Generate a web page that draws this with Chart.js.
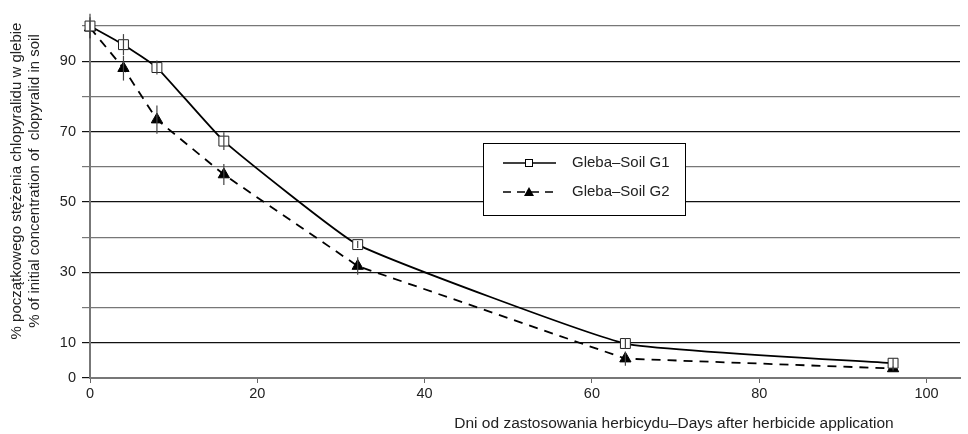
<!DOCTYPE html>
<html>
<head>
<meta charset="utf-8">
<script src="https://cdn.jsdelivr.net/npm/chart.js@4.4.0/dist/chart.umd.min.js"></script>
<style>
  html, body { margin: 0; padding: 0; background: #fff; }
</style>
</head>
<body>
<canvas id="chart" width="968" height="434"></canvas>
<script>
// days after application
const days = [0, 4, 8, 16, 32, 64, 96];
// % of initial concentration
const soilG1 = [100, 94.7, 88.2, 67.3, 37.9, 9.8, 4.2];
const soilG2 = [99.5, 88, 73.4, 57.8, 31.8, 5.5, 2.7];
// error bar half-heights
const errG1 = [3.5, 3, 2, 2.5, 1, 1.5, 1.5];
const errG2 = [3, 3.5, 4, 3, 2.5, 2, 0.6];
const seriesNames = ['Gleba\u2013Soil G1', 'Gleba\u2013Soil G2'];
const xTicks = [0, 20, 40, 60, 80, 100];
const yTicks = [0, 10, 20, 30, 40, 50, 60, 70, 80, 90, 100];
const yLabels = [0, 10, 30, 50, 70, 90];
const yTitle = ['% pocz\u0105tkowego st\u0119\u017cenia chlopyralidu w glebie', '% of initial concentration of  clopyralid in soil'];
const xTitle = 'Dni od zastosowania herbicydu\u2013Days after herbicide application';

const FONT = '"Liberation Sans", Arial, sans-serif';

const errorBars = {
  id: 'errorBars',
  afterDatasetsDraw(chart) {
    const {ctx, scales: {x, y}} = chart;
    const errs = [errG1, errG2];
    ctx.save();
    ctx.strokeStyle = '#444';
    ctx.lineWidth = 1.2;
    chart.data.datasets.forEach((ds, i) => {
      ds.data.forEach((p, j) => {
        const px = x.getPixelForValue(p.x);
        ctx.beginPath();
        ctx.moveTo(px, y.getPixelForValue(p.y + errs[i][j]));
        ctx.lineTo(px, y.getPixelForValue(p.y - errs[i][j]));
        ctx.stroke();
      });
    });
    ctx.restore();
  }
};

const extras = {
  id: 'extras',
  afterDraw(chart) {
    const {ctx} = chart;
    ctx.save();
    // legend box
    const bx = 483, by = 143, bw = 202, bh = 72;
    ctx.fillStyle = '#fff';
    ctx.fillRect(bx, by, bw, bh);
    ctx.strokeStyle = '#000';
    ctx.lineWidth = 1;
    ctx.strokeRect(bx + 0.5, by + 0.5, bw, bh);
    const rows = [163, 192];
    ctx.font = '15px ' + FONT;
    ctx.textBaseline = 'middle';
    ctx.textAlign = 'left';
    rows.forEach((ry, i) => {
      ctx.strokeStyle = '#000';
      ctx.lineWidth = 1.6;
      ctx.setLineDash(i === 0 ? [] : [8, 6]);
      ctx.beginPath();
      ctx.moveTo(503, ry);
      ctx.lineTo(556, ry);
      ctx.stroke();
      ctx.setLineDash([]);
      if (i === 0) {
        ctx.fillStyle = '#fff';
        ctx.fillRect(525, ry - 4, 8, 8);
        ctx.lineWidth = 1;
        ctx.strokeRect(525.5, ry - 3.5, 7, 7);
      } else {
        ctx.fillStyle = '#000';
        ctx.beginPath();
        ctx.moveTo(529, ry - 5);
        ctx.lineTo(534, ry + 4);
        ctx.lineTo(524, ry + 4);
        ctx.closePath();
        ctx.fill();
      }
      ctx.fillStyle = '#222';
      ctx.fillText(seriesNames[i], 572, ry);
    });
    // axis titles
    ctx.fillStyle = '#222';
    ctx.font = '15.5px ' + FONT;
    ctx.textAlign = 'center';
    ctx.fillText(xTitle, 674, 424);
    ctx.font = '15px ' + FONT;
    ctx.translate(0, 181);
    ctx.rotate(-Math.PI / 2);
    ctx.fillText(yTitle[0], 0, 17);
    ctx.fillText(yTitle[1], 0, 35);
    ctx.restore();
  }
};

new Chart(document.getElementById('chart'), {
  type: 'line',
  data: {
    datasets: [
      {
        label: seriesNames[0],
        data: days.map((d, i) => ({x: d, y: soilG1[i]})),
        borderColor: '#000',
        borderWidth: 1.8,
        tension: 0.12,
        clip: false,
        pointStyle: 'rect',
        pointRadius: 7,
        pointBackgroundColor: '#fff',
        pointBorderColor: '#222',
        pointBorderWidth: 1
      },
      {
        label: seriesNames[1],
        data: days.map((d, i) => ({x: d, y: soilG2[i]})),
        borderColor: '#000',
        borderWidth: 1.8,
        borderDash: [9, 7],
        tension: 0,
        clip: false,
        pointStyle: 'triangle',
        pointRadius: 6.5,
        pointBackgroundColor: '#000',
        pointBorderColor: '#000',
        pointBorderWidth: 1
      }
    ]
  },
  options: {
    responsive: false,
    animation: false,
    layout: { padding: { top: 26, right: 8, left: 0, bottom: 0 } },
    plugins: {
      legend: { display: false },
      tooltip: { enabled: false }
    },
    scales: {
      x: {
        type: 'linear',
        min: 0,
        max: 104,
        afterBuildTicks: s => { s.ticks = xTicks.map(v => ({value: v})); },
        afterFit: s => { s.height = 56; },
        grid: { drawOnChartArea: false, drawTicks: true, tickLength: 5, color: '#666' },
        border: { color: '#777', width: 2 },
        ticks: { color: '#222', font: { family: FONT, size: 14.5 }, padding: 2, maxRotation: 0 }
      },
      y: {
        min: 0,
        max: 100,
        afterBuildTicks: s => { s.ticks = yTicks.map(v => ({value: v})); },
        afterFit: s => { s.width = 90; },
        grid: {
          tickLength: 8,
          color: c => c.tick && yLabels.includes(c.tick.value) ? '#111' : '#777',
          lineWidth: 1.2
        },
        border: { color: '#777', width: 2 },
        ticks: {
          color: '#222',
          font: { family: FONT, size: 14.5 },
          padding: 6,
          callback: v => yLabels.includes(v) ? v : ''
        }
      }
    }
  },
  plugins: [errorBars, extras]
});
</script>
</body>
</html>
